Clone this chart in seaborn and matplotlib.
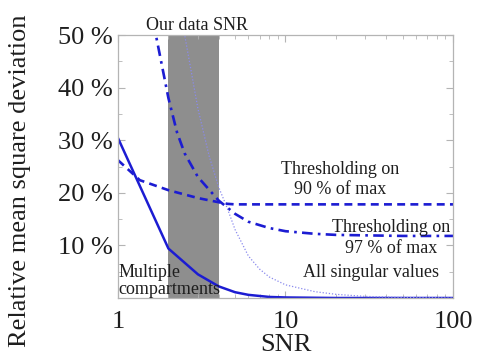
import numpy as np
import pandas as pd
import seaborn as sns
import matplotlib as mpl
import matplotlib.pyplot as plt
from matplotlib.ticker import FixedLocator, NullFormatter

sns.set_style("ticks")
mpl.rcParams["font.family"] = ["Liberation Serif", "DejaVu Serif"]

# values
snr_multi = [1, 2, 3, 4, 5, 6, 8, 10, 20, 100]
rmsd_multi = [0.304, 0.094, 0.045, 0.022, 0.011, 0.006, 0.002, 0.001, 0.0, 0.0]

snr_t90 = [1, 1.35, 2, 3, 4, 4.5, 5, 10, 100]
rmsd_t90 = [0.262, 0.224, 0.205, 0.19, 0.182, 0.179, 0.178, 0.178, 0.178]

snr_t97 = [1.5, 2, 2.25, 2.5, 3, 4, 5, 6, 8, 10, 15, 20, 50, 100]
rmsd_t97 = [0.58, 0.38, 0.315, 0.275, 0.23, 0.185, 0.16, 0.145, 0.133, 0.127, 0.122, 0.12, 0.118, 0.118]

snr_all = [2, 2.5, 3, 3.5, 4, 4.5, 5, 6, 7, 8, 10, 15, 20, 30, 50, 100]
rmsd_all = [0.75, 0.5, 0.36, 0.27, 0.21, 0.17, 0.13, 0.08, 0.055, 0.04, 0.025, 0.012, 0.007, 0.003, 0.001, 0.0]

band = (2, 4)
yticks = [0.1, 0.2, 0.3, 0.4, 0.5]
ytick_labels = ["10 %", "20 %", "30 %", "40 %", "50 %"]
xticks = [1, 10, 100]
xtick_labels = ["1", "10", "100"]

blue = "#1c1cd2"
light = "#8a8aee"
frame = "#b4b4b4"
ink = "#1e1e1e"

fig = plt.figure(figsize=(4.89, 3.56), dpi=100)
ax = fig.add_axes([118 / 489, 1 - 298 / 356, (453 - 118) / 489, (298 - 35) / 356])

ax.axvspan(*band, color="#8e8e8e", lw=0, zorder=0)

sns.lineplot(x=snr_multi, y=rmsd_multi, ax=ax, color=blue, lw=1.8, sort=False)
sns.lineplot(x=snr_t90, y=rmsd_t90, ax=ax, color=blue, lw=1.9, sort=False,
             linestyle=(0, (3, 2)))
sns.lineplot(x=snr_t97, y=rmsd_t97, ax=ax, color=blue, lw=1.9, sort=False,
             linestyle=(0, (4, 2, 1, 2)))
sns.lineplot(x=snr_all, y=rmsd_all, ax=ax, color=light, lw=0.9, sort=False,
             linestyle=(0, (1, 1.5)))

ax.set_xscale("log")
ax.set_xlim(1, 100)
ax.set_ylim(0, 0.5)
ax.set_xticks(xticks)
ax.set_xticklabels(xtick_labels)
ax.xaxis.set_minor_formatter(NullFormatter())
ax.set_yticks(yticks)
ax.set_yticklabels(ytick_labels)
ax.yaxis.set_minor_locator(FixedLocator([0.05, 0.15, 0.25, 0.35, 0.45]))

ax.tick_params(which="both", direction="in", top=True, right=True,
               color=frame, labelcolor=ink, labelsize=19)
ax.tick_params(axis="x", which="major", pad=9, length=5)
ax.tick_params(axis="y", which="major", pad=4, length=5)
ax.tick_params(which="minor", length=3)
for s in ax.spines.values():
    s.set_color(frame)
    s.set_linewidth(0.9)

ax.set_xlabel("SNR", fontsize=19, color=ink, labelpad=1)
ax.set_ylabel("Relative mean square deviation", fontsize=19, color=ink)
ax.yaxis.set_label_coords(-87 / 335, 0.445)

tkw = dict(fontsize=13, color=ink)
ax.text(2.95, 1.019, "Our data SNR", transform=ax.get_xaxis_transform(),
        ha="center", va="baseline", **tkw)
ax.text(21.3, 0.225, "Thresholding on\n90 % of max", ha="center", va="center",
        linespacing=1.2, **tkw)
ax.text(42.5, 0.114, "Thresholding on\n97 % of max", ha="center", va="center",
        linespacing=1.3, **tkw)
ax.text(32.3, 0.048, "All singular values", ha="center", va="center", **tkw)
ax.text(1.01, 0.032, "Multiple\ncompartments", ha="left", va="center",
        linespacing=1.0, **tkw)

fig.savefig("out.png", dpi=100)
